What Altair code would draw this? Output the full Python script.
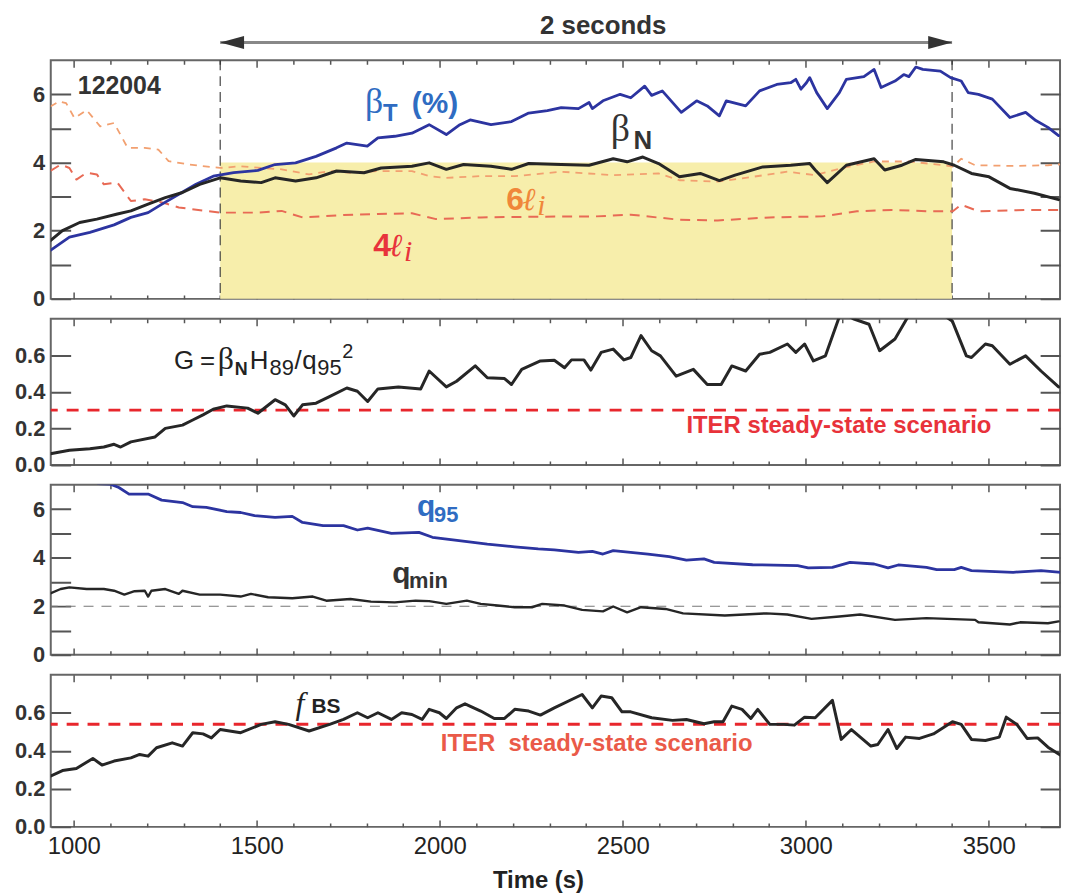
import altair as alt
import pandas as pd

# ---------------- data ----------------
BT_T = [936, 988, 1044, 1110, 1156, 1203, 1241, 1287, 1334, 1381, 1437, 1503, 1550, 1606, 1662, 1718, 1746, 1802, 1831, 1877,
        1924, 1971, 2018, 2055, 2083, 2140, 2196, 2243, 2294, 2332, 2379, 2408, 2417, 2446, 2493, 2522, 2560, 2579, 2608, 2660,
        2702, 2731, 2764, 2783, 2836, 2874, 2921, 2959, 2973, 2987, 3002, 3011, 3030, 3059, 3092, 3111, 3159, 3187, 3206, 3244,
        3268, 3282, 3301, 3320, 3368, 3396, 3425, 3444, 3472, 3510, 3558, 3601, 3629, 3662, 3691]
BT_V = [1.42, 1.81, 1.95, 2.17, 2.39, 2.53, 2.78, 3.07, 3.36, 3.60, 3.70, 3.77, 3.94, 3.99, 4.18, 4.43, 4.57, 4.48, 4.72, 4.77,
        4.86, 5.11, 4.82, 5.11, 5.25, 5.11, 5.20, 5.45, 5.52, 5.61, 5.58, 5.76, 5.58, 5.81, 6.0, 5.9, 6.24, 5.97, 6.1, 5.47,
        5.81, 5.66, 5.37, 5.81, 5.66, 6.1, 6.29, 6.34, 6.44, 6.15, 6.34, 6.49, 6.05, 5.58, 6.05, 6.44, 6.52, 6.73, 6.2, 6.39,
        6.58, 6.52, 6.8, 6.73, 6.68, 6.49, 6.39, 6.05, 6.0, 5.86, 5.32, 5.47, 5.23, 5.03, 4.79]

BN_T = [936, 969, 1016, 1063, 1119, 1156, 1203, 1250, 1297, 1344, 1400, 1456, 1512, 1550, 1606, 1662, 1718, 1793, 1840, 1924,
        1971, 2018, 2065, 2140, 2196, 2243, 2332, 2408, 2474, 2512, 2555, 2598, 2655, 2712, 2764, 2807, 2883, 2959, 3011, 3026,
        3059, 3111, 3187, 3216, 3263, 3301, 3377, 3406, 3453, 3501, 3558, 3625, 3691]
BN_V = [1.71, 2.0, 2.24, 2.34, 2.49, 2.58, 2.78, 2.97, 3.12, 3.36, 3.55, 3.46, 3.41, 3.55, 3.46, 3.55, 3.75, 3.70, 3.84, 3.89,
        3.99, 3.80, 3.94, 3.89, 3.80, 3.97, 3.94, 3.92, 4.11, 4.02, 4.16, 3.97, 3.58, 3.68, 3.47, 3.63, 3.87, 3.92, 3.97, 3.78,
        3.41, 3.92, 4.11, 3.78, 3.92, 4.09, 4.02, 3.92, 3.68, 3.58, 3.24, 3.10, 2.91]

LI6_T = [936, 960, 979, 1002, 1035, 1072, 1110, 1147, 1194, 1231, 1259, 1316, 1400, 1456, 1512, 1568, 1643, 1699, 1756, 1831,
         1924, 1971, 2018, 2112, 2205, 2332, 2474, 2598, 2655, 2760, 2855, 2950, 3026, 3092, 3187, 3282, 3377, 3402, 3425, 3463,
         3567, 3662, 3727]
LI6_V = [5.64, 5.79, 5.74, 5.30, 5.54, 5.06, 5.16, 4.43, 4.43, 4.38, 4.04, 3.94, 3.84, 3.89, 3.84, 3.80, 3.65, 3.75, 3.70, 3.75,
         3.75, 3.60, 3.55, 3.60, 3.60, 3.73, 3.63, 3.68, 3.48, 3.44, 3.58, 3.73, 3.63, 3.82, 4.03, 4.03, 3.92, 3.88, 4.11, 3.92,
         3.90, 3.92, 3.97]

LI4_T = [936, 964, 988, 1007, 1035, 1063, 1082, 1119, 1156, 1194, 1241, 1287, 1362, 1400, 1503, 1568, 1625, 1737, 1831, 1924,
         1990, 2112, 2269, 2427, 2522, 2655, 2760, 2902, 3045, 3140, 3235, 3330, 3402, 3425, 3472, 3615, 3727]
LI4_V = [3.75, 3.94, 3.84, 3.50, 3.70, 3.65, 3.36, 3.41, 2.87, 2.92, 2.83, 2.68, 2.58, 2.53, 2.53, 2.58, 2.39, 2.46, 2.49, 2.51,
         2.34, 2.39, 2.41, 2.42, 2.47, 2.32, 2.30, 2.39, 2.42, 2.57, 2.61, 2.57, 2.57, 2.76, 2.57, 2.61, 2.61]

G_T = [936, 988, 1044, 1082, 1110, 1128, 1156, 1222, 1250, 1297, 1325, 1353, 1381, 1418, 1475, 1503, 1550, 1578, 1601, 1625,
       1662, 1700, 1746, 1775, 1803, 1831, 1887, 1948, 1971, 2018, 2046, 2097, 2130, 2177, 2196, 2224, 2275, 2313, 2341, 2360,
       2394, 2413, 2441, 2474, 2503, 2522, 2550, 2579, 2603, 2646, 2693, 2731, 2769, 2798, 2836, 2874, 2902, 2950, 2973, 2997,
       3021, 3054, 3097, 3130, 3173, 3202, 3244, 3282, 3330, 3377, 3401, 3439, 3453, 3491, 3510, 3558, 3601, 3643, 3691]
G_V = [0.061, 0.08, 0.089, 0.098, 0.113, 0.098, 0.126, 0.153, 0.20, 0.218, 0.246, 0.274, 0.305, 0.323, 0.311, 0.283, 0.357, 0.329, 0.268, 0.329,
       0.338, 0.375, 0.421, 0.403, 0.347, 0.416, 0.427, 0.416, 0.514, 0.427, 0.458, 0.542, 0.477, 0.473, 0.44, 0.523, 0.569, 0.573, 0.532, 0.575,
       0.575, 0.519, 0.616, 0.634, 0.575, 0.588, 0.708, 0.625, 0.597, 0.486, 0.523, 0.44, 0.44, 0.542, 0.514, 0.606, 0.616, 0.662, 0.616, 0.662,
       0.569, 0.597, 0.84, 0.80, 0.77, 0.625, 0.689, 0.82, 0.86, 0.82, 0.786, 0.597, 0.588, 0.662, 0.652, 0.551, 0.597, 0.514, 0.427]

Q95_T = [1067, 1100, 1123, 1151, 1203, 1240, 1297, 1325, 1362, 1418, 1456, 1494, 1550, 1597, 1625, 1681, 1737, 1775, 1803, 1868,
         1943, 1980, 2036, 2130, 2205, 2269, 2313, 2379, 2417, 2446, 2474, 2569, 2627, 2674, 2722, 2750, 2855, 2978, 3007, 3073,
         3121, 3187, 3225, 3253, 3330, 3358, 3406, 3425, 3453, 3567, 3643, 3727]
Q95_V = [7.05, 7.03, 6.89, 6.62, 6.62, 6.37, 6.27, 6.10, 6.07, 5.90, 5.86, 5.73, 5.66, 5.70, 5.45, 5.32, 5.32, 5.14, 5.22, 5.0,
         5.04, 4.84, 4.73, 4.56, 4.45, 4.36, 4.32, 4.22, 4.26, 4.15, 4.29, 4.15, 4.04, 3.90, 3.95, 3.81, 3.71, 3.67, 3.58, 3.60,
         3.81, 3.74, 3.58, 3.70, 3.60, 3.51, 3.51, 3.60, 3.47, 3.40, 3.47, 3.36]

QMIN_T = [936, 964, 988, 1035, 1082, 1110, 1138, 1166, 1194, 1203, 1212, 1250, 1287, 1297, 1344, 1400, 1456, 1484, 1531, 1597,
          1653, 1690, 1756, 1812, 1877, 1934, 1971, 2018, 2074, 2112, 2158, 2205, 2252, 2280, 2341, 2389, 2446, 2474, 2512, 2550,
          2617, 2665, 2779, 2893, 2950, 3016, 3092, 3149, 3244, 3330, 3463, 3472, 3558, 3586, 3662, 3691]
QMIN_V = [2.53, 2.71, 2.78, 2.71, 2.71, 2.64, 2.48, 2.62, 2.64, 2.40, 2.64, 2.71, 2.51, 2.64, 2.48, 2.48, 2.40, 2.51, 2.37, 2.33,
          2.40, 2.23, 2.30, 2.19, 2.16, 2.23, 2.21, 2.10, 2.23, 2.10, 2.03, 1.96, 1.96, 2.10, 2.03, 1.85, 1.79, 1.99, 1.75, 1.96,
          1.89, 1.71, 1.62, 1.71, 1.66, 1.48, 1.58, 1.66, 1.44, 1.51, 1.44, 1.34, 1.25, 1.34, 1.30, 1.38]

FBS_T = [936, 969, 1007, 1052, 1077, 1110, 1156, 1180, 1203, 1226, 1269, 1297, 1325, 1353, 1376, 1400, 1456, 1512, 1550, 1587,
         1643, 1699, 1737, 1775, 1803, 1831, 1868, 1896, 1924, 1952, 1971, 1999, 2018, 2046, 2069, 2112, 2149, 2177, 2205, 2243,
         2275, 2313, 2389, 2417, 2441, 2470, 2498, 2522, 2579, 2636, 2674, 2722, 2750, 2774, 2798, 2826, 2850, 2869, 2902, 2940,
         2969, 2997, 3026, 3073, 3097, 3125, 3178, 3197, 3225, 3249, 3273, 3311, 3349, 3401, 3425, 3453, 3491, 3529, 3548, 3577,
         3605, 3634, 3662, 3700, 3727]
FBS_V = [0.267, 0.296, 0.307, 0.36, 0.325, 0.346, 0.363, 0.381, 0.372, 0.416, 0.442, 0.425, 0.495, 0.489, 0.468, 0.512, 0.495, 0.539, 0.553, 0.539,
         0.504, 0.539, 0.565, 0.60, 0.574, 0.60, 0.565, 0.60, 0.591, 0.565, 0.618, 0.60, 0.57, 0.626, 0.647, 0.609, 0.57, 0.57, 0.618, 0.609,
         0.588, 0.626, 0.696, 0.626, 0.688, 0.679, 0.605, 0.605, 0.574, 0.56, 0.565, 0.542, 0.553, 0.553, 0.635, 0.618, 0.57, 0.618, 0.539, 0.539,
         0.535, 0.577, 0.574, 0.665, 0.46, 0.512, 0.425, 0.433, 0.512, 0.412, 0.472, 0.465, 0.489, 0.553, 0.539, 0.46, 0.454, 0.472, 0.577, 0.539,
         0.465, 0.468, 0.419, 0.372, 0.363]

for a, b in [(BT_T, BT_V), (BN_T, BN_V), (LI6_T, LI6_V), (LI4_T, LI4_V), (G_T, G_V),
             (Q95_T, Q95_V), (QMIN_T, QMIN_V), (FBS_T, FBS_V)]:
    assert len(a) == len(b)

WINDOW = [1400, 3400]      # 2-second flat-top window
WINDOW_TOP = 4.0
ITER_G = [0.3]
ITER_FBS = [0.54]
QMIN_REF = [2.0]

X_DOMAIN = [937, 3695]
X_TICKS = list(range(1000, 3701, 100))
Y_BETA_TICKS = [0, 1, 2, 3, 4, 5, 6]
Y_G_TICKS = [0.0, 0.2, 0.4, 0.6]
Y_Q_TICKS = [0, 1, 2, 3, 4, 5, 6]
Y_F_TICKS = [0.0, 0.2, 0.4, 0.6]

# ---------------- style ----------------
W = 1015
H1, H2, H3, H4 = 240, 147, 171, 153
SANS = "Liberation Sans"
SERIF = "Liberation Serif"
AXC = "#555555"
BLUE_LINE = "#2c34a0"
BLUE_TXT = "#2f6cc2"
BLACK = "#262626"
RED = "#e8262c"

XS = alt.Scale(domain=X_DOMAIN, nice=False, zero=False)


def x_axis(h, bottom):
    kw = dict(orient="bottom", values=X_TICKS, grid=True, gridColor=AXC, gridWidth=1.5,
              gridDash={"condition": {"test": "datum.value % 500 === 0", "value": [7, h - 14, 7, 5000]},
                        "value": [4, h - 8, 4, 5000]},
              ticks=False, domain=False, labels=bottom)
    if bottom:
        kw.update(labelExpr="datum.value % 500 === 0 ? '' + datum.value : ''", labelFont=SANS,
                  labelFontSize=24, labelColor="#222", labelPadding=8, labelOverlap=False,
                  labelFlush=False, title="Time (s)", titleFont=SANS,
                  titleFontSize=24, titleFontWeight="bold", titleColor="#222",
                  titleX=490, titleY=61, titleAlign="center", titleBaseline="alphabetic")
    else:
        kw.update(title=None)
    return alt.Axis(**kw)


def y_axis(values, expr):
    return alt.Axis(orient="left", values=values, grid=True, gridColor=AXC, gridWidth=2,
                    gridDash=[20, W - 40, 20, 5000], ticks=False, domain=False,
                    labelExpr=expr, labelFont=SANS, labelFontSize=22, labelFontWeight="bold",
                    labelColor="#333", labelPadding=6, labelOverlap=False, labelFlush=False,
                    title=None)


class Panel:
    def __init__(self, ys, xax, yax):
        self.ys, self.xax, self.yax = ys, xax, yax

    def X(self, f):
        return alt.X(f, type="quantitative", scale=XS, axis=self.xax)

    def Y(self, f):
        return alt.Y(f, type="quantitative", scale=self.ys, axis=self.yax)

    def line(self, t, v, color, width, dash=None):
        df = pd.DataFrame({"t": t, "v": v})
        mk = dict(color=color, strokeWidth=width, clip=True, strokeJoin="round")
        if dash:
            mk["strokeDash"] = dash
            mk["strokeCap"] = "butt"
        else:
            mk["strokeCap"] = "round"
        return alt.Chart(df).mark_line(**mk).encode(x=self.X("t"), y=self.Y("v"))

    def hrule(self, vals, color, width, dash):
        return alt.Chart(pd.DataFrame({"v": vals})).mark_rule(
            color=color, strokeWidth=width, strokeDash=dash, strokeCap="butt").encode(y=self.Y("v"))

    def txt(self, t, v, s, size, color, font=SANS, weight="normal", style="normal", dx=0, dy=0):
        df = pd.DataFrame({"t": [t], "v": [v], "s": [s]})
        return alt.Chart(df).mark_text(font=font, fontSize=size, fontWeight=weight, fontStyle=style,
                                       color=color, align="left", baseline="alphabetic",
                                       dx=dx, dy=dy).encode(x=self.X("t"), y=self.Y("v"), text="s:N")


# ---------------- panel 1: beta ----------------
P1 = Panel(alt.Scale(domain=[0, 7], nice=False, zero=False), x_axis(H1, False),
           y_axis(Y_BETA_TICKS, "datum.value % 2 === 0 ? '' + datum.value : ''"))
box = alt.Chart(pd.DataFrame({"t0": [WINDOW[0]], "t1": [WINDOW[1]], "v0": [0.0], "v1": [WINDOW_TOP]})).mark_rect(
    color="#f7eeab", opacity=1).encode(x=P1.X("t0"), x2="t1:Q", y=P1.Y("v0"), y2="v1:Q")
vlines = alt.Chart(pd.DataFrame({"t": WINDOW})).mark_rule(
    color="#333", strokeWidth=1.1, strokeDash=[10, 6]).encode(x=P1.X("t"))
arrow = alt.Chart(pd.DataFrame({"t0": [WINDOW[0]], "t1": [WINDOW[1]], "v": [7.52]})).mark_rule(
    color="#888", strokeWidth=3).encode(x=P1.X("t0"), x2="t1:Q", y=P1.Y("v"))
head_l = alt.Chart(pd.DataFrame({"t": [WINDOW[0]], "v": [7.52]})).mark_point(
    shape="M0,0L2,-0.55L2,0.55Z", size=576, filled=True, color="#333", opacity=1).encode(
    x=P1.X("t"), y=P1.Y("v"))
head_r = alt.Chart(pd.DataFrame({"t": [WINDOW[1]], "v": [7.52]})).mark_point(
    shape="M0,0L-2,-0.55L-2,0.55Z", size=576, filled=True, color="#333", opacity=1).encode(
    x=P1.X("t"), y=P1.Y("v"))

p1 = alt.layer(
    box, vlines,
    P1.line(LI6_T, LI6_V, "#f2a070", 1.8, dash=[7, 6]),
    P1.line(LI4_T, LI4_V, "#e86a55", 2, dash=[10, 7]),
    P1.line(BT_T, BT_V, BLUE_LINE, 2.8),
    P1.line(BN_T, BN_V, BLACK, 3),
    arrow, head_l, head_r,
    P1.txt(2274, 7.76, "2 seconds", 26, "#333", weight="bold"),
    P1.txt(1011, 6.0, "122004", 25, "#333", weight="bold"),
    P1.txt(1796, 5.45, "β", 36, BLUE_TXT, font=SERIF),
    P1.txt(1796, 5.45, "T", 24, BLUE_TXT, weight="bold", dx=18, dy=8),
    P1.txt(1796, 5.45, "(%)", 30, BLUE_TXT, weight="bold", dx=47),
    P1.txt(2467, 4.62, "β", 38, "#333", font=SERIF),
    P1.txt(2467, 4.62, "N", 26, "#333", weight="bold", dx=23, dy=8),
    P1.txt(2182, 2.62, "6", 32, "#f0873a", weight="bold"),
    P1.txt(2182, 2.62, "ℓ", 32, "#f0873a", font=SERIF, style="italic", dx=16),
    P1.txt(2182, 2.62, "i", 30, "#f0873a", font=SERIF, style="italic", dx=31, dy=5),
    P1.txt(1818, 1.25, "4", 32, "#e8333c", weight="bold"),
    P1.txt(1818, 1.25, "ℓ", 32, "#e8333c", font=SERIF, style="italic", dx=16),
    P1.txt(1818, 1.25, "i", 30, "#e8333c", font=SERIF, style="italic", dx=31, dy=5),
).properties(width=W, height=H1)

# ---------------- panel 2: G ----------------
P2 = Panel(alt.Scale(domain=[0, 0.8], nice=False, zero=False), x_axis(H2, False),
           y_axis(Y_G_TICKS, "format(datum.value, '.1f')"))
p2 = alt.layer(
    P2.hrule(ITER_G, RED, 3, [12, 9]),
    P2.line(G_T, G_V, BLACK, 3),
    P2.txt(1274, 0.525, "G", 26, "#222"),
    P2.txt(1274, 0.525, "=", 26, "#222", dx=26),
    P2.txt(1274, 0.525, "β", 32, "#222", font=SERIF, dx=44),
    P2.txt(1274, 0.525, "N", 18, "#222", weight="bold", dx=61, dy=6),
    P2.txt(1274, 0.525, "H", 26, "#222", dx=76),
    P2.txt(1274, 0.525, "89", 22, "#222", dx=96, dy=6),
    P2.txt(1274, 0.525, "/", 26, "#222", dx=121),
    P2.txt(1274, 0.525, "q", 26, "#222", dx=129),
    P2.txt(1274, 0.525, "95", 22, "#222", dx=144, dy=6),
    P2.txt(1274, 0.525, "2", 20, "#222", dx=169, dy=-11),
    P2.txt(2674, 0.174, "ITER steady-state scenario", 24, "#e8323a", weight="bold"),
).properties(width=W, height=H2)

# ---------------- panel 3: q ----------------
P3 = Panel(alt.Scale(domain=[0, 7], nice=False, zero=False), x_axis(H3, False),
           y_axis(Y_Q_TICKS, "datum.value % 2 === 0 ? '' + datum.value : ''"))
p3 = alt.layer(
    P3.hrule(QMIN_REF, "#777", 1.2, [10, 8]),
    P3.line(Q95_T, Q95_V, BLUE_LINE, 2.8),
    P3.line(QMIN_T, QMIN_V, BLACK, 2.4),
    P3.txt(1938, 5.73, "q", 30, BLUE_TXT, weight="bold"),
    P3.txt(1938, 5.73, "95", 22, BLUE_TXT, weight="bold", dx=17, dy=6),
    P3.txt(1870, 2.95, "q", 30, "#333", weight="bold"),
    P3.txt(1870, 2.95, "min", 22, "#333", weight="bold", dx=17, dy=5),
).properties(width=W, height=H3)

# ---------------- panel 4: f_BS ----------------
P4 = Panel(alt.Scale(domain=[0, 0.8], nice=False, zero=False), x_axis(H4, True),
           y_axis(Y_F_TICKS, "format(datum.value, '.1f')"))
p4 = alt.layer(
    P4.hrule(ITER_FBS, RED, 3, [12, 9]),
    P4.line(FBS_T, FBS_V, BLACK, 3),
    P4.txt(1606, 0.596, "f", 32, "#222", font=SERIF, style="italic"),
    P4.txt(1606, 0.596, "BS", 21, "#222", weight="bold", dx=16, dy=-1),
    P4.txt(2003, 0.40, "ITER\u00a0\u00a0steady-state scenario", 24, "#ea5a48", weight="bold"),
).properties(width=W, height=H4)

chart = alt.vconcat(p1, p2, p3, p4, spacing=7).properties(
    padding={"left": 5, "top": 1, "right": 2, "bottom": 2}
).configure_view(stroke="#666", strokeWidth=2)

chart.save("out.html", embed_options={"renderer": "svg", "actions": False})
